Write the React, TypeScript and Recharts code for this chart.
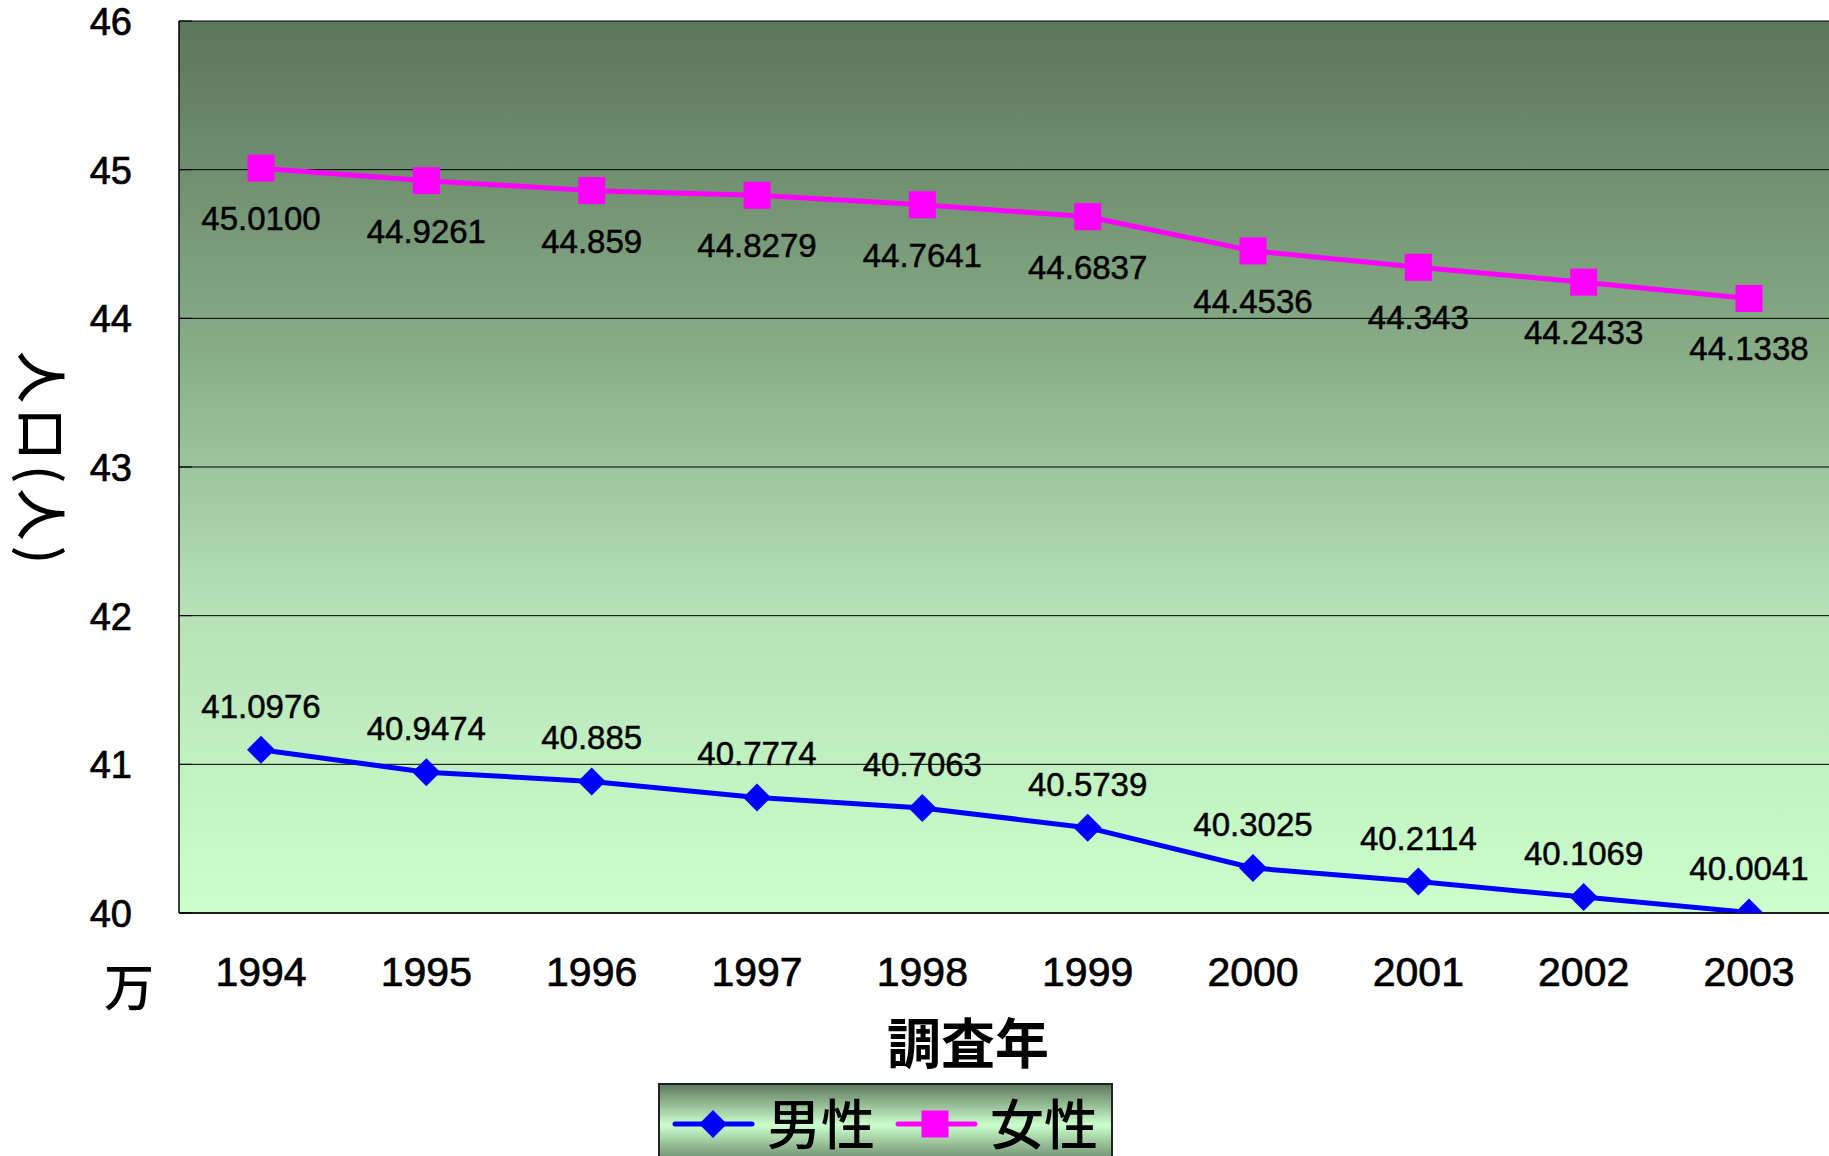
import React from "react";
import { LineChart, Line, XAxis, YAxis, CartesianGrid, LabelList } from "recharts";

const years = ["1994", "1995", "1996", "1997", "1998", "1999", "2000", "2001", "2002", "2003"];
const maleValues = [41.0976, 40.9474, 40.885, 40.7774, 40.7063, 40.5739, 40.3025, 40.2114, 40.1069, 40.0041];
const femaleValues = [45.01, 44.9261, 44.859, 44.8279, 44.7641, 44.6837, 44.4536, 44.343, 44.2433, 44.1338];
const maleLabels = ["41.0976", "40.9474", "40.885", "40.7774", "40.7063", "40.5739", "40.3025", "40.2114", "40.1069", "40.0041"];
const femaleLabels = ["45.0100", "44.9261", "44.859", "44.8279", "44.7641", "44.6837", "44.4536", "44.343", "44.2433", "44.1338"];
const yTicks = [40, 41, 42, 43, 44, 45, 46];
const seriesNames = ["男性", "女性"];

const MALE_COLOR = "#0000ff";
const FEMALE_COLOR = "#ff00ff";
const NUM_FONT = "'Liberation Sans', Arial, sans-serif";
const JP_FONT = "'Noto Sans CJK JP', sans-serif";

const data = years.map((year, i) => ({
  year,
  male: maleValues[i],
  female: femaleValues[i],
  maleLabel: maleLabels[i],
  femaleLabel: femaleLabels[i],
}));

const Diamond = ({ cx, cy }: any) => {
  if (cx == null || cy == null) return null;
  return <path d={`M${cx},${cy - 14}L${cx + 14},${cy}L${cx},${cy + 14}L${cx - 14},${cy}Z`} fill={MALE_COLOR} />;
};

const Square = ({ cx, cy }: any) => {
  if (cx == null || cy == null) return null;
  return <rect x={cx - 13.5} y={cy - 13.5} width={27} height={27} fill={FEMALE_COLOR} />;
};

// slight stroke to mimic the heavier gothic digits of the original
const numText = { fontFamily: NUM_FONT, fill: "#000", stroke: "#000", strokeWidth: 0.7 };

const YTick = ({ x, y, payload }: any) => (
  <g>
    <line x1={x} x2={x + 13} y1={y} y2={y} stroke="#000" strokeWidth={1} />
    <text x={x - 47} y={y + 14} textAnchor="end" fontSize={38} {...numText}>
      {payload.value}
    </text>
  </g>
);

const XTick = ({ x, y, payload }: any) => (
  <text x={x} y={y + 73} textAnchor="middle" fontSize={41} {...numText}>
    {payload.value}
  </text>
);

const labelAbove = (props: any) => (
  <text x={props.x} y={props.y - 32} textAnchor="middle" fontSize={33} {...numText} strokeWidth={0.5}>
    {props.value}
  </text>
);

const labelBelow = (props: any) => (
  <text x={props.x} y={props.y + 62} textAnchor="middle" fontSize={33} {...numText} strokeWidth={0.5}>
    {props.value}
  </text>
);

export default function App() {
  return (
    <div style={{ position: "absolute", left: 0, top: 0, width: 1829, height: 1156, overflow: "hidden", background: "#fff" }}>
      <LineChart width={1832} height={1156} data={data} margin={{ top: 21, right: 0, bottom: 0, left: 0 }}>
        <defs>
          <linearGradient id="plotBg" x1="0" y1="0" x2="0" y2="1">
            <stop offset="0%" stopColor="#5c765c" />
            <stop offset="37%" stopColor="#87ad87" />
            <stop offset="65%" stopColor="#b5e0b5" />
            <stop offset="100%" stopColor="#ccffcc" />
          </linearGradient>
        </defs>
        <CartesianGrid vertical={false} stroke="#000" strokeWidth={1} fill="url(#plotBg)" fillOpacity={1} />
        <XAxis
          dataKey="year"
          height={243}
          interval={0}
          padding={{ left: 82, right: 83 }}
          axisLine={{ stroke: "#000", strokeWidth: 1.5 }}
          tickLine={false}
          tickSize={0}
          tickMargin={0}
          tick={<XTick />}
        />
        <YAxis
          type="number"
          width={179}
          domain={[40, 46]}
          ticks={yTicks}
          allowDataOverflow
          axisLine={{ stroke: "#000", strokeWidth: 1.5 }}
          tickLine={false}
          tickSize={0}
          tickMargin={0}
          tick={<YTick />}
        />
        <Line
          dataKey="male"
          name={seriesNames[0]}
          stroke={MALE_COLOR}
          strokeWidth={5}
          strokeLinejoin="round"
          dot={<Diamond />}
          activeDot={false}
          isAnimationActive={false}
        >
          <LabelList dataKey="maleLabel" content={labelAbove} />
        </Line>
        <Line
          dataKey="female"
          name={seriesNames[1]}
          stroke={FEMALE_COLOR}
          strokeWidth={5}
          strokeLinejoin="round"
          dot={<Square />}
          activeDot={false}
          isAnimationActive={false}
        >
          <LabelList dataKey="femaleLabel" content={labelBelow} />
        </Line>
      </LineChart>
      <svg width={1829} height={1156} style={{ position: "absolute", left: 0, top: 0, pointerEvents: "none" }}>
        <defs>
          <linearGradient id="legendBg" x1="0" y1="0" x2="0" y2="1">
            <stop offset="0%" stopColor="#5c785c" />
            <stop offset="50%" stopColor="#ccffcc" />
            <stop offset="100%" stopColor="#5c785c" />
          </linearGradient>
        </defs>
        <text
          x={22}
          y={460}
          transform="rotate(90 22 460)"
          textAnchor="middle"
          fontSize={52}
          fontWeight={500}
          letterSpacing={5}
          fontFamily={JP_FONT}
          fill="#000"
        >
          人口(人)
        </text>
        <text x={129} y={1006} textAnchor="middle" fontSize={50} fontWeight={500} fontFamily={JP_FONT} fill="#000">
          万
        </text>
        <text x={968} y={1064} textAnchor="middle" fontSize={54} fontWeight={700} fontFamily={JP_FONT} fill="#000">
          調査年
        </text>
        <g transform="translate(659 1084)">
          <rect x={0} y={0} width={453} height={82} fill="url(#legendBg)" stroke="#222" strokeWidth={2} />
          <line x1={16} x2={93} y1={40} y2={40} stroke={MALE_COLOR} strokeWidth={5} strokeLinecap="round" />
          <Diamond cx={54} cy={40} />
          <text x={108} y={61} fontSize={54} fontWeight={500} fontFamily={JP_FONT} fill="#000">
            {seriesNames[0]}
          </text>
          <line x1={239} x2={316} y1={40} y2={40} stroke={FEMALE_COLOR} strokeWidth={5} strokeLinecap="round" />
          <Square cx={276} cy={40} />
          <text x={331} y={61} fontSize={54} fontWeight={500} fontFamily={JP_FONT} fill="#000">
            {seriesNames[1]}
          </text>
        </g>
      </svg>
    </div>
  );
}
